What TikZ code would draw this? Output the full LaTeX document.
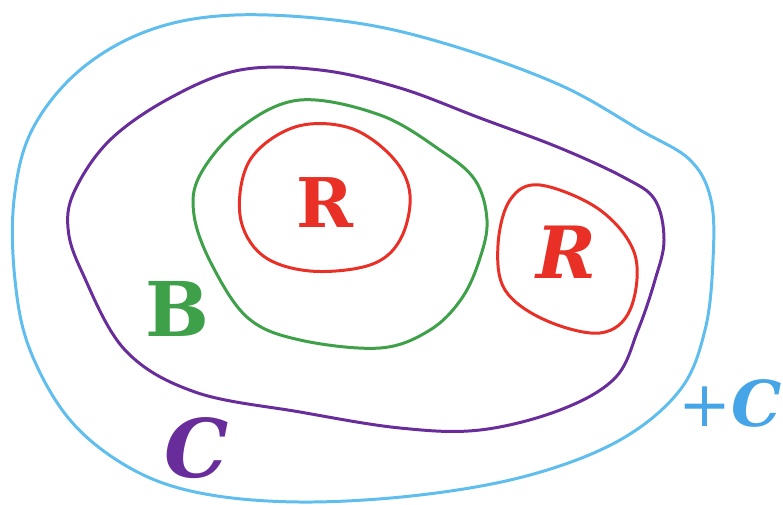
\documentclass[tikz,border=0pt]{standalone}
\usepackage{fontspec}
\setmainfont{DejaVu Serif}
\begin{document}
\begin{tikzpicture}[x=0.02cm, y=-0.02cm,
  loop/.style={line width=1.7pt, line join=round},
  lbl/.style={font=\fontsize{#1}{#1}\selectfont\bfseries, inner sep=0pt}]
  \definecolor{sky}{RGB}{95,190,238}
  \definecolor{plum}{RGB}{105,45,155}
  \definecolor{leaf}{RGB}{62,160,72}
  \definecolor{brick}{RGB}{232,48,38}
  \definecolor{ocean}{RGB}{70,165,230}
  \useasboundingbox (0,0) rectangle (783,504);
  % outer region
  \draw[loop, sky] plot[smooth cycle, tension=0.6] coordinates {
    (235,15) (150,30) (80,70) (32,130) (14,200) (15,280) (30,350) (70,420)
    (130,468) (200,493) (300,502) (420,495) (530,475) (620,440) (680,390)
    (705,330) (713,260) (711,200) (690,160) (640,130) (560,85) (450,45) (350,22)};
  % C region
  \draw[loop, plum] plot[smooth cycle, tension=0.6] coordinates {
    (240,70) (170,98) (110,140) (75,190) (68,228) (82,272) (125,350)
    (195,392) (300,412) (400,428) (480,430) (560,410) (615,378) (638,330)
    (655,280) (664,240) (655,200) (625,178) (560,148) (480,118) (400,88) (320,70)};
  % B region
  \draw[loop, leaf] plot[smooth cycle, tension=0.6] coordinates {
    (300,100) (240,128) (200,175) (194,215) (212,265) (248,318) (300,340)
    (380,348) (430,330) (462,298) (480,258) (487,220) (475,180) (440,150) (380,115)};
  % R regions
  \draw[loop, brick] plot[smooth cycle, tension=0.6] coordinates {
    (295,127) (350,128) (393,158) (410,195) (400,240) (370,265) (310,271)
    (262,255) (240,215) (250,160)};
  \draw[loop, brick] plot[smooth cycle, tension=0.6] coordinates {
    (540,185) (600,210) (635,255) (630,310) (600,333) (545,320) (505,290)
    (498,245) (510,200)};
  % labels
  \node[lbl=39, brick] (r1) at (325,203) {R};
  \node[lbl=41, brick] (r2) at (566,252) {\itshape R};
  \node[lbl=43, leaf] (b) at (177,309) {B};
  \node[lbl=46, plum] (c) at (197,448) {\itshape C};
  \node[lbl=36, ocean, anchor=east] (pc) at (782,403) {{\mdseries+}\itshape C};
\end{tikzpicture}
\end{document}
